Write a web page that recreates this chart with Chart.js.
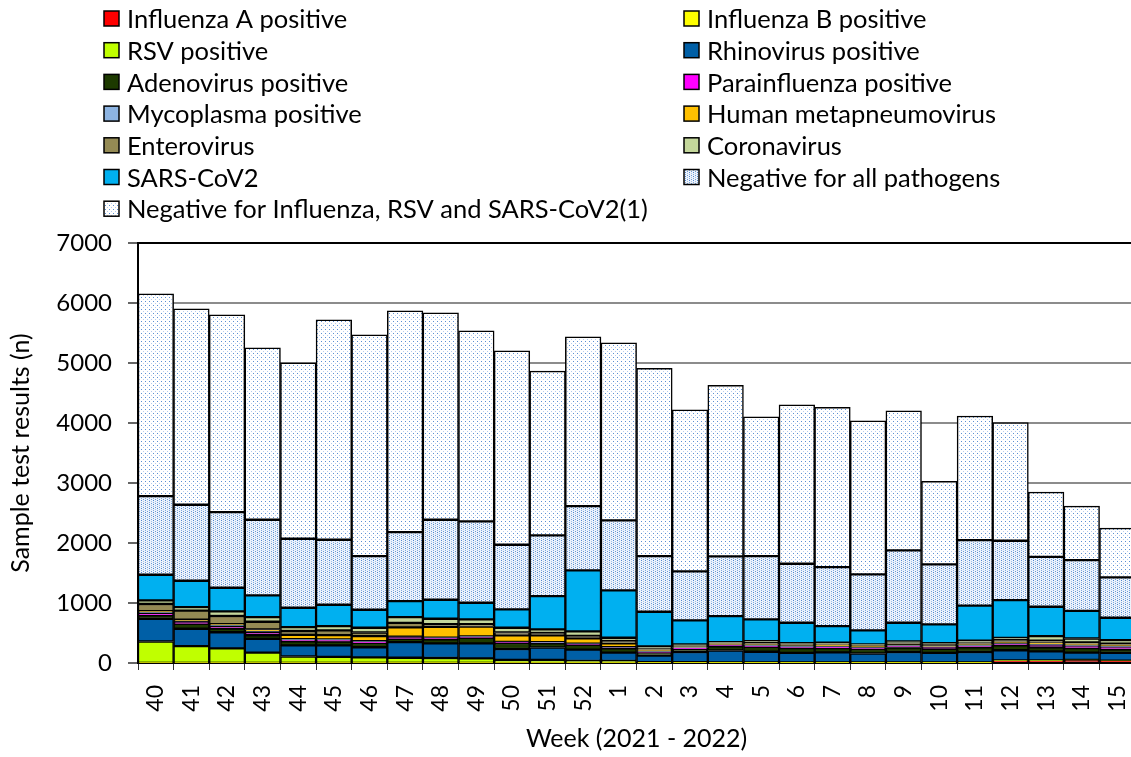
<!DOCTYPE html>
<html>
<head>
<meta charset="utf-8">
<script src="https://cdn.jsdelivr.net/npm/chart.js@4/dist/chart.umd.min.js"></script>
<style>
  html, body { margin: 0; padding: 0; background: #fff; overflow: hidden; }
  #wrap { position: relative; width: 1160px; height: 757px; }
</style>
</head>
<body>
<div id="wrap"><canvas id="chart"></canvas></div>
<script>
const weeks = ['40','41','42','43','44','45','46','47','48','49','50','51','52','1','2','3','4','5','6','7','8','9','10','11','12','13','14','15'];

const fluA      = [0,0,0,0,0,0,0,0,0,0,0,0,0,0,0,0,0,0,0,0,0,0,0,0,35,35,45,30];
const fluB      = [3,3,3,3,3,3,3,3,3,3,3,3,3,3,3,3,3,3,3,3,3,3,3,3,3,3,3,3];
const rsv       = [355,278,240,170,105,100,90,85,80,75,50,50,30,30,10,10,5,5,5,5,5,5,5,5,5,5,5,5];
const rhino     = [380,290,270,230,185,190,170,260,245,250,180,205,190,140,110,170,200,180,160,170,150,175,160,175,170,150,120,130];
const adeno     = [55,80,60,60,70,62,70,55,65,90,100,70,80,70,50,50,70,80,80,70,75,75,70,80,80,70,75,60];
const para      = [35,25,45,50,25,30,20,25,20,15,10,10,10,10,10,15,15,20,20,25,25,25,25,25,30,40,35,40];
const myco      = [15,10,10,10,10,10,10,10,10,10,10,10,10,10,10,10,10,10,10,10,10,10,10,10,10,10,10,10];
const hmpv      = [20,36,20,35,70,70,85,155,180,165,110,115,90,65,20,10,10,10,10,15,10,10,10,10,10,20,20,15];
const entero    = [120,150,135,130,65,80,60,75,45,40,45,40,40,40,35,20,20,35,30,20,15,35,35,25,45,40,30,30];
const corona    = [60,60,77,77,66,70,79,97,89,78,79,57,73,53,28,22,16,22,14,19,17,22,14,38,32,75,66,58];
const sars      = [428,439,394,361,322,356,300,267,317,278,306,555,1017,789,578,400,433,361,339,278,233,311,311,584,628,489,461,373];
const negAll    = [1310,1266,1261,1261,1150,1083,895,1150,1333,1356,1078,1011,1072,1166,928,816,994,1056,983,984,933,1205,1000,1094,989,833,845,672];
const negOther  = [3373,3267,3289,2867,2933,3667,3689,3689,3451,3178,3233,2739,2823,2962,3128,2695,2850,2322,2650,2661,2562,2328,1383,2067,1972,1078,900,822];

const yTicks = [0,1000,2000,3000,4000,5000,6000,7000];

const FONT = 'Lato';

function dotPattern(bg, dots, w, h) {
    const c = document.createElement('canvas');
    c.width = w; c.height = h;
    const g = c.getContext('2d');
    g.fillStyle = bg;
    g.fillRect(0, 0, w, h);
    dots.forEach(d => {
        g.fillStyle = d[2];
        g.fillRect(d[0], d[1], 1, 1);
    });
    return g.createPattern(c, 'repeat');
}

const ctx = document.getElementById('chart').getContext('2d');

const denseDots = dotPattern('#edf3fb', [[1,0,'#4f86cf'],[1,2,'#7fa8de'],[3,1,'#9fbfe9'],[3,3,'#6b9ad6']], 4, 4);
const sparseDots = dotPattern('#ffffff', [[1,1,'#5b8fd2'],[3,3,'#b4cbee']], 4, 4);

const series = [
    { label: 'Influenza A positive', data: fluA, color: '#ff0000' },
    { label: 'Influenza B positive', data: fluB, color: '#ffff00' },
    { label: 'RSV positive', data: rsv, color: '#c0ff00' },
    { label: 'Rhinovirus positive', data: rhino, color: '#005fa6' },
    { label: 'Adenovirus positive', data: adeno, color: '#1d3a00' },
    { label: 'Parainfluenza positive', data: para, color: '#ff00ff' },
    { label: 'Mycoplasma positive', data: myco, color: '#8db4e2' },
    { label: 'Human metapneumovirus', data: hmpv, color: '#ffc000' },
    { label: 'Enterovirus', data: entero, color: '#948a54' },
    { label: 'Coronavirus', data: corona, color: '#c4d79b' },
    { label: 'SARS-CoV2', data: sars, color: '#00b0f0' },
    { label: 'Negative for all pathogens', data: negAll, color: denseDots },
    { label: 'Negative for Influenza, RSV and SARS-CoV2(1)', data: negOther, color: sparseDots }
];

// two-column legend at the top, like the original
const twoColLegend = {
    id: 'twoColLegend',
    afterDraw(chart) {
        const c = chart.ctx;
        c.save();
        c.font = '25.5px ' + FONT;
        c.textBaseline = 'middle';
        chart.data.datasets.forEach((ds, i) => {
            const col = i % 2;
            const row = Math.floor(i / 2);
            const x = col === 0 ? 104 : 684;
            const y = 19 + row * 31.7;
            c.fillStyle = ds.backgroundColor;
            c.fillRect(x, y - 8, 15, 15);
            c.strokeStyle = '#000';
            c.lineWidth = 1.5;
            c.strokeRect(x, y - 8, 15, 15);
            c.fillStyle = '#000';
            c.fillText(ds.label, x + 23, y + 1);
        });
        c.restore();
    }
};

new Chart(ctx, {
    type: 'bar',
    data: {
        labels: weeks,
        datasets: series.map(s => ({
            label: s.label,
            data: s.data,
            backgroundColor: s.color,
            borderColor: '#000',
            borderWidth: 1.5,
            borderSkipped: false,
            barPercentage: 1,
            categoryPercentage: 1
        }))
    },
    options: {
        responsive: true,
        maintainAspectRatio: false,
        animation: false,
        layout: { padding: { top: 243, left: 0, right: 2, bottom: 0 } },
        plugins: {
            legend: { display: false },
            tooltip: { enabled: false }
        },
        scales: {
            x: {
                stacked: true,
                afterFit(scale) { scale.height = 94; },
                grid: {
                    offset: true,
                    drawOnChartArea: false,
                    drawTicks: true,
                    tickLength: 7,
                    color: '#333'
                },
                border: { color: '#000', width: 2 },
                ticks: {
                    color: '#000',
                    font: { family: FONT, size: 23 },
                    minRotation: 90,
                    maxRotation: 90,
                    padding: 15,
                    autoSkip: false
                },
                title: {
                    display: true,
                    text: 'Week (2021 - 2022)',
                    color: '#000',
                    font: { family: FONT, size: 25 },
                    padding: { top: 0, bottom: 3 }
                }
            },
            y: {
                stacked: true,
                min: 0,
                max: 7000,
                afterFit(scale) { scale.width = 138; },
                afterBuildTicks(scale) { scale.ticks = yTicks.map(v => ({ value: v })); },
                grid: {
                    color: c => (c.tick && c.tick.value === 7000) ? '#000' : '#8c8c8c',
                    lineWidth: 2,
                    tickLength: 10,
                    tickColor: '#666'
                },
                border: { color: '#000', width: 2 },
                ticks: {
                    color: '#000',
                    font: { family: FONT, size: 24 },
                    padding: 16,
                    callback: v => String(v)
                },
                title: {
                    display: true,
                    text: 'Sample test results (n)',
                    color: '#000',
                    font: { family: FONT, size: 25 },
                    padding: { top: 6, bottom: 4 }
                }
            }
        }
    },
    plugins: [twoColLegend]
});
</script>
</body>
</html>
